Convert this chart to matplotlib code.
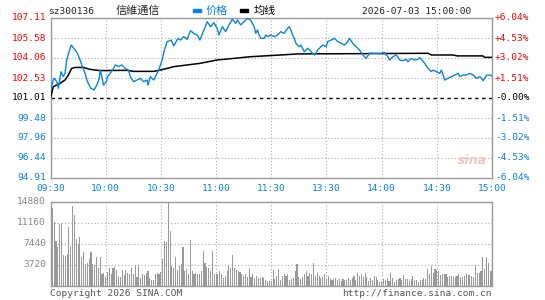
import numpy as np
import matplotlib
matplotlib.use("Agg")
import matplotlib.pyplot as plt
from matplotlib.patches import Rectangle

# ---- data ----
time_ticks = [0, 30, 60, 90, 120, 150, 180, 210, 240]
time_labels = ['09:30', '10:00', '10:30', '11:00', '11:30', '13:30', '14:00', '14:30', '15:00']

price_ticks = [94.91, 96.44, 97.96, 99.48, 101.01, 102.53, 104.06, 105.58, 107.11]
pct_labels = ['-6.04%', '-4.53%', '-3.02%', '-1.51%', '-0.00%', '+1.51%', '+3.02%', '+4.53%', '+6.04%']
prev_close = 101.01

price_min = [0, 1.5, 2, 3.4, 4.3, 5.7, 7, 7.9, 8.8, 11.2, 13.4, 14.6, 16.1, 17, 18.8, 20.1,
             21.9, 23.7, 25.2, 26.5, 27, 27.9, 28.8, 30.3, 31, 32.5, 34.3, 35.2, 37, 38.8,
             40.6, 42.4, 43.4, 45.2, 47, 48.8, 50.6, 52.5, 53, 54.3, 56.1, 58.8, 60.7, 61.9,
             63.4, 65.6, 67, 69.3, 70.6, 72.4, 74.3, 76.1, 77.9, 79.7, 81.2,
             83.4, 85.2, 87.0, 88.8, 90.6, 91.6, 93.4, 95.2, 97.0, 98.8, 100.7, 101.6, 103.4,
             105.2, 107.0, 108.8, 110.7, 111.6, 112.5, 113.4, 114.3, 116.1, 117.0, 118.0,
             119.8, 121.6, 123.4, 125.2, 127.0, 128.9, 129.8, 130.7, 131.6, 132.5, 133.4,
             135.3, 136.1, 138.0, 139.8, 141.6, 143.4, 144.3, 145.2, 147.1, 148.0, 149.8,
             150.7, 152.5, 154.3, 156.2, 158.0, 159.8, 161.6, 162.5, 164.3, 166.2, 168.0,
             169.8, 171.6, 173.4, 175.3, 177.1, 178.9,
             179.8, 181.6, 183.4, 184.3, 186.1, 188.0, 189.8, 191.6, 193.4, 194.3, 196.1,
             198.0, 199.8, 200.7, 201.6, 203.4, 205.2, 207.0, 207.9, 209.8, 211.6, 212.5,
             213.4, 214.3, 216.1, 217.9, 219.8, 221.6, 222.5, 224.3, 226.1, 227.9, 229.8,
             231.6, 233.4, 234.3, 235.2, 237.1, 238.9, 240]
price_val = [101.62, 102.38, 102.51, 102.25, 101.75, 103.02, 102.64, 102.89, 103.91, 105.05,
             104.67, 104.42, 103.91, 103.53, 102.89, 102.25, 101.75, 101.62, 102.00, 102.51,
             103.14, 102.64, 102.00, 102.25, 102.64, 102.89, 103.27, 103.53, 103.40, 103.53,
             103.27, 103.14, 102.64, 102.25, 102.38, 102.51, 102.25, 102.38, 102.00, 102.64,
             102.38, 103.14, 103.91, 104.67, 105.30, 105.43, 104.98, 105.56, 105.43, 105.69,
             105.48, 106.14, 105.94, 105.81, 105.43,
             106.19, 106.83, 106.45, 106.75, 106.32, 105.81, 106.45, 106.07, 106.58, 107.01,
             106.70, 106.96, 106.58, 106.83, 107.08, 106.96, 106.45, 105.94, 106.19, 105.81,
             105.56, 105.56, 105.81, 105.69, 105.81, 105.69, 105.81, 106.07, 105.94, 106.32,
             106.45, 106.19, 105.81, 105.56, 105.18, 104.92, 105.05, 104.54, 104.80, 104.54,
             104.29, 104.42, 104.67, 104.92, 105.05, 104.92, 105.31, 105.43, 105.56, 105.31,
             105.18, 105.05, 105.31, 105.56, 105.18, 104.92, 104.67, 104.29, 104.03, 104.42,
             104.42, 104.42, 104.37,
             104.42, 104.47, 104.16, 103.91, 104.16, 104.29, 103.91, 103.86, 103.96, 103.78,
             104.03, 103.91, 103.96, 104.09, 103.96, 103.65, 103.27, 103.02, 103.14, 103.02,
             102.89, 103.14, 102.76, 102.38, 102.51, 102.64, 102.76, 102.89, 102.64, 102.76,
             102.76, 102.89, 102.76, 102.51, 102.64, 102.51, 102.33, 102.76, 102.76, 102.69]

avg_min = [0, 1.5, 3.4, 5.2, 7.9, 9.7, 11.5, 13.4, 17.9, 21.6, 27, 41.6, 45.2, 56.1, 59.7,
           63.4, 67, 74.3, 81.2, 90.6, 99.7, 108.8, 121.6, 134.3, 180, 205.2, 207, 219,
           221, 235, 236, 240]
avg_val = [101.01, 101.87, 102.00, 102.13, 102.38, 102.76, 103.27, 103.34, 103.34, 103.19,
           103.10, 103.12, 103.04, 103.04, 103.14, 103.27, 103.40, 103.53, 103.65, 103.91,
           104.03, 104.16, 104.26, 104.37, 104.40, 104.42, 104.29, 104.29, 104.22, 104.22,
           104.11, 104.11]

vol_ticks = [3720, 7440, 11160, 14880]
volume = [4600, 13690, 11330, 7850, 6790, 10920, 11090, 5490, 5310, 5720,
          10330, 7080, 14160, 12570, 8260, 7380, 8560, 5020, 5900, 3950,
          4130, 4720, 5900, 3950, 3720, 5130, 3130, 5130, 2180, 2360,
          1590, 2480, 3250, 2180, 3130, 3360, 2770, 1770, 1590, 2830,
          1890, 2770, 2360, 2070, 3130, 2180, 3660, 1590, 3720, 1360,
          2070, 1950, 2360, 2660, 1360, 1000, 1000, 2070, 2360, 2180,
          2540, 4720, 7850, 7670, 14750, 9740, 3540, 3250, 5020, 2770,
          3540, 3950, 6900, 2660, 2950, 2180, 8080, 2660, 2070, 2360, 2070,
          2070, 2660, 6080, 4130, 3360, 3250, 2660, 6080, 2180, 2180,
          2070, 2660, 2070, 1480, 1770, 2660, 3720, 3130, 5490, 3250,
          2830, 2660, 2540, 2070, 1770, 2180, 1590, 3130, 1590, 2180,
          1360, 1770, 1480, 1360, 1590, 1360, 1000, 890, 890, 890,
          2830, 1180, 1770, 3070, 1000, 1770, 2070, 1770, 2070, 1000,
          1180, 1360, 2660, 3950, 1650, 1180, 1590, 2070, 2660, 1770,
          2360, 2070, 4130, 1770, 2360, 1770, 1480, 1590, 2070, 1180,
          1770, 1180, 1000, 1180, 1360, 1000, 1180, 890, 1180, 1000,
          1000, 1360, 1000, 1360, 1770, 1000, 2360, 1770, 2180, 1590,
          2360, 1590, 890, 1360, 1000, 1770, 1590, 1000,
          770, 890, 1180, 1000, 1360, 890, 2360, 1480, 770, 1000,
          1180, 1360, 1000, 1950, 1180, 1180, 890, 1180, 1770, 1000,
          1000, 770, 1000, 1000, 1360, 1180, 2950, 2070, 3540, 2360,
          3070, 2770, 2660, 1950, 2070, 2070, 2180, 1590, 1770, 1770,
          1590, 1590, 1770, 2180, 1590, 1590, 1770, 2070, 1950, 1950,
          1770, 1590, 3720, 2360, 2360, 2660, 5020, 2950, 5130, 4130,
          2660, 2660]

# ---- styling ----
W, H = 545, 300
RED = '#ff0000'
BLUE = '#0a84dc'
GRAY = '#999999'
MONO = 'DejaVu Sans Mono'
CJK = ['Noto Sans CJK SC', 'DejaVu Sans']
FS = 6.8


def fx(px):
    return px / W


def fy(py):
    return 1 - py / H


fig = plt.figure(figsize=(W / 100, H / 100), dpi=100)
fig.patch.set_facecolor('white')

L, R = 50.5, 492
ax = fig.add_axes([fx(L), fy(178), fx(R - L), (178 - 18) / H])
axv = fig.add_axes([fx(L), fy(286), fx(R - L), (286 - 201.5) / H])

for a in (ax, axv):
    a.set_xlim(0, 240)
    for s in a.spines.values():
        s.set_color(GRAY)
        s.set_linewidth(1.0)
    a.tick_params(length=0)
    a.set_xticks([])
    for t in time_ticks[1:-1]:
        a.axvline(t, color='#aaaaaa', lw=0.8, ls=(0, (1, 2)), zorder=1)

# price panel
ax.set_ylim(price_ticks[0], price_ticks[-1])
ax.set_yticks([])
for p in price_ticks[1:-1]:
    if p == prev_close:
        ax.axhline(p, color='black', lw=1.0, ls=(0, (2.5, 2.5)), zorder=2)
    else:
        ax.axhline(p, color='#aaaaaa', lw=0.8, ls=(0, (1, 2)), zorder=1)

ax.plot(avg_min, avg_val, color='black', lw=1.1, zorder=3)
ax.plot(price_min, price_val, color=BLUE, lw=1.0, zorder=4)

for p, lab in zip(price_ticks, pct_labels):
    if p > prev_close:
        c = RED
    elif p < prev_close:
        c = BLUE
    else:
        c = 'black'
    ax.text(-4.5 / (R - L) * 240, p, f'{p:.2f}', color=c, ha='right', va='center',
            fontsize=FS, family=MONO, clip_on=False)
    ax.text(240 + 3 / (R - L) * 240, p, lab, color=c, ha='left', va='center',
            fontsize=FS, family=MONO, clip_on=False)

for t, lab in zip(time_ticks, time_labels):
    fig.text(fx(L + t * (R - L) / 240), fy(188.5), lab, color=BLUE, ha='center',
             va='center', fontsize=FS, family=MONO)

# watermark
fig.text(fx(472), fy(161), 'sina', color='#f2c4c4', ha='center', va='center',
         fontsize=9, fontweight='bold', style='italic', family='DejaVu Sans')

# volume panel
axv.set_ylim(0, vol_ticks[-1])
axv.set_yticks([])
for v in vol_ticks[:-1]:
    axv.axhline(v, color='#aaaaaa', lw=0.8, ls=(0, (1, 2)), zorder=1)
axv.bar(np.arange(len(volume)), volume, width=0.6, color=GRAY, zorder=2)
for v in vol_ticks:
    axv.text(-4.5 / (R - L) * 240, v, str(v), color='#888888', ha='right', va='center',
             fontsize=FS, family=MONO, clip_on=False)

# header
fig.text(fx(48), fy(11), 'sz300136', color='#222222', ha='left', va='center',
         fontsize=FS, family=MONO)
fig.text(fx(116), fy(11), '信維通信', color='#222222', ha='left', va='center',
         fontsize=8, family=CJK)
fig.patches.append(Rectangle((fx(193), fy(12)), fx(8), 3 / H, color=BLUE,
                             transform=fig.transFigure, figure=fig))
fig.text(fx(206), fy(11), '价格', color=BLUE, ha='left', va='center', fontsize=8, family=CJK)
fig.patches.append(Rectangle((fx(240), fy(12)), fx(8), 3 / H, color='black',
                             transform=fig.transFigure, figure=fig))
fig.text(fx(254), fy(11), '均线', color='black', ha='left', va='center', fontsize=8, family=CJK)
fig.text(fx(471), fy(11), '2026-07-03 15:00:00', color='#222222', ha='right',
         va='center', fontsize=FS, family=MONO)

# footer
fig.text(fx(50), fy(293), 'Copyright 2026 SINA.COM', color='#555555', ha='left',
         va='center', fontsize=FS, family=MONO)
fig.text(fx(492), fy(293), 'http://finance.sina.com.cn', color='#555555', ha='right',
         va='center', fontsize=FS, family=MONO)

fig.savefig('out.png', dpi=100)
